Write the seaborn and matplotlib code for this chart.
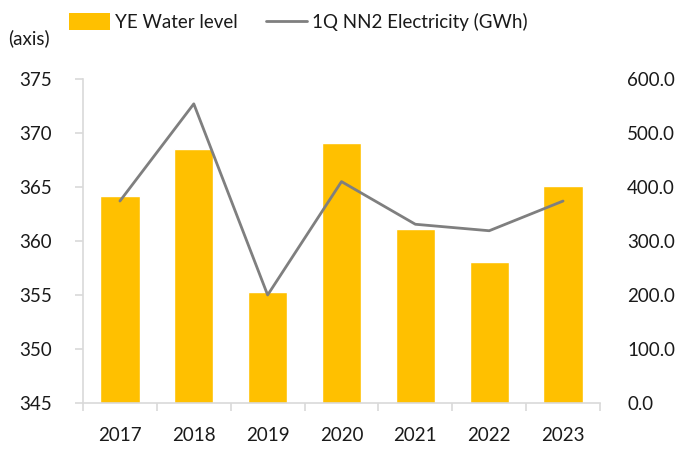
import numpy as np
import pandas as pd
import matplotlib
matplotlib.use("Agg")
import matplotlib.pyplot as plt
import seaborn as sns
from matplotlib.patches import Patch
from matplotlib.lines import Line2D
from matplotlib.ticker import FixedLocator, FormatStrFormatter

years = ["2017", "2018", "2019", "2020", "2021", "2022", "2023"]
water_level = [364.2, 368.5, 355.3, 369.1, 361.1, 358.1, 365.1]
electricity = [374, 554, 200, 410, 331, 319, 374]
bar_label = "YE Water level"
line_label = "1Q NN2 Electricity (GWh)"
left_ticks = [345, 350, 355, 360, 365, 370, 375]
right_ticks = [0, 100, 200, 300, 400, 500, 600]

sns.set_style("white")
plt.rcParams["font.family"] = ["Lato", "DejaVu Sans"]

BAR = "#FFC000"
LINE = "#7F7F7F"
SPINE = "#D9D9D9"
TXT = "#1a1a1a"

df = pd.DataFrame({"year": years, "water": water_level, "elec": electricity})

fig = plt.figure(figsize=(6.9, 4.53), dpi=100)
ax = fig.add_axes([83/690, 1-403/453, (600-83)/690, (403-79)/453])

sns.barplot(data=df, x="year", y="water", color=BAR, width=0.53,
            saturation=1, ax=ax, zorder=2)
ax.set_ylim(345, 375)
ax.set_yticks(left_ticks)
ax.set_xlim(-0.5, len(years)-0.5)
ax.set_xlabel("")
ax.set_ylabel("")

for s in ["top", "right"]:
    ax.spines[s].set_visible(False)
for s in ["left", "bottom"]:
    ax.spines[s].set_color(SPINE)
    ax.spines[s].set_linewidth(1.2)

ax.tick_params(axis="y", which="major", left=True, length=5.8, width=1.2,
               color=SPINE, labelsize=13.5, labelcolor=TXT, pad=16.5)
ax.tick_params(axis="x", which="major", bottom=True, length=0,
               labelsize=13.5, labelcolor=TXT, pad=17)
ax.xaxis.set_minor_locator(FixedLocator(np.arange(-0.5, len(years), 1.0)))
ax.tick_params(axis="x", which="minor", bottom=True, length=6, width=1.2,
               color=SPINE)

ax2 = ax.twinx()
xpos = np.arange(len(years))
sns.lineplot(x=xpos, y=df["elec"].values, color=LINE, linewidth=2.0,
             ax=ax2, zorder=3)
ax2.set_ylim(0, 600)
ax2.set_yticks(right_ticks)
ax2.yaxis.set_major_formatter(FormatStrFormatter("%.1f"))
ax2.set_ylabel("")
for s in ["top", "right", "left", "bottom"]:
    ax2.spines[s].set_visible(False)
ax2.tick_params(axis="y", right=True, length=0, labelsize=13.5,
                labelcolor=TXT, pad=19.5)

handles = [Patch(facecolor=BAR, edgecolor="none", label=bar_label),
           Line2D([0], [0], color=LINE, linewidth=2.0, label=line_label)]
fig.legend(handles=handles, loc="center left",
           bbox_to_anchor=(69/690, 1-22/453), ncol=2, frameon=False,
           fontsize=13.5, borderpad=0, borderaxespad=0, handlelength=2.2,
           handleheight=1.05, handletextpad=0.25, columnspacing=1.5,
           labelcolor=TXT)

fig.text(8/690, 1-38/453, "(axis)", fontsize=13.5, color=TXT,
         va="center", ha="left")

fig.savefig("out.png", dpi=100)
